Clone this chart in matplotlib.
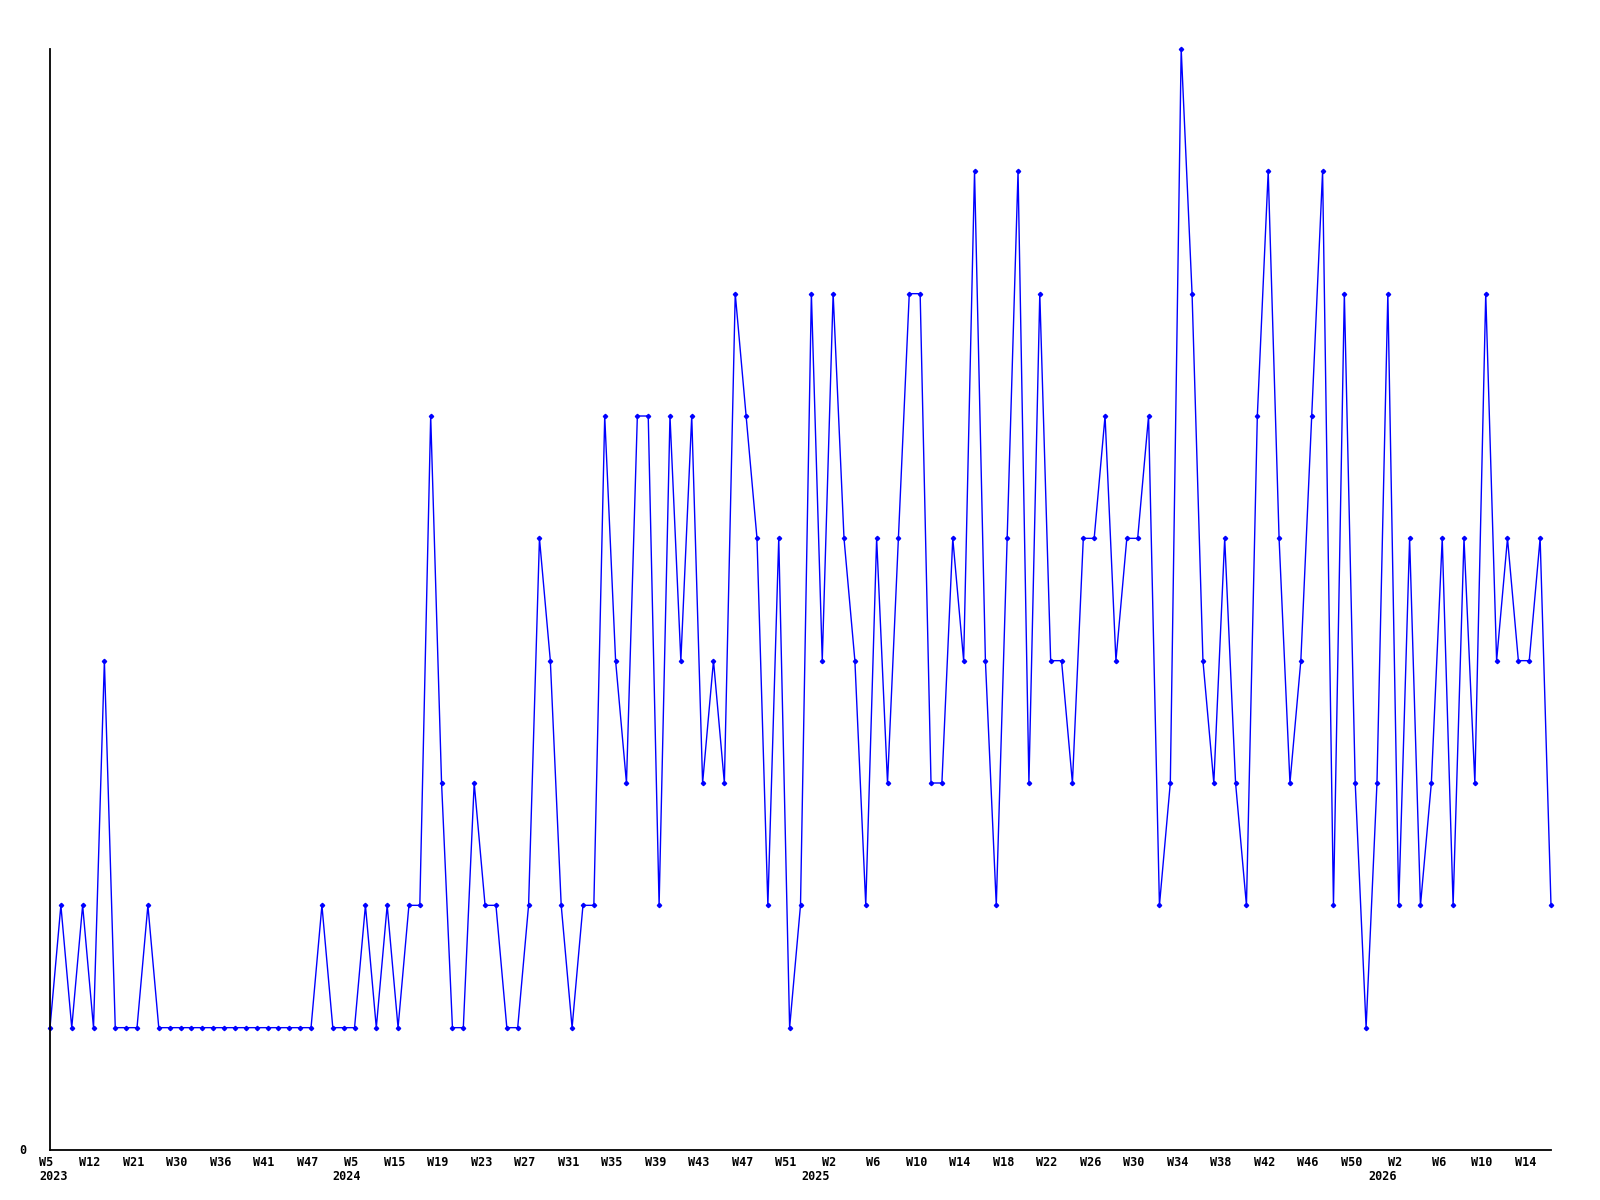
import matplotlib
matplotlib.use("Agg")
import matplotlib.pyplot as plt
import matplotlib.transforms as mtransforms

# weekly values (index = point order)
values = [
    1, 2, 1, 2, 1, 4, 1, 1, 1, 2,
    1, 1, 1, 1, 1, 1, 1, 1, 1, 1,
    1, 1, 1, 1, 1, 2, 1, 1, 1, 2,
    1, 2, 1, 2, 2, 6, 3, 1, 1, 3,
    2, 2, 1, 1, 2, 5, 4, 2, 1, 2,
    2, 6, 4, 3, 6, 6, 2, 6, 4, 6,
    3, 4, 3, 7, 6, 5, 2, 5, 1, 2,
    7, 4, 7, 5, 4, 2, 5, 3, 5, 7,
    7, 3, 3, 5, 4, 8, 4, 2, 5, 8,
    3, 7, 4, 4, 3, 5, 5, 6, 4, 5,
    5, 6, 2, 3, 9, 7, 4, 3, 5, 3,
    2, 6, 8, 5, 3, 4, 6, 8, 2, 7,
    3, 1, 3, 7, 2, 5, 2, 3, 5, 2,
    5, 3, 7, 4, 5, 4, 4, 5, 2,
]

week_labels = ["W5", "W12", "W21", "W30", "W36", "W41", "W47", "W5", "W15",
               "W19", "W23", "W27", "W31", "W35", "W39", "W43", "W47", "W51",
               "W2", "W6", "W10", "W14", "W18", "W22", "W26", "W30", "W34",
               "W38", "W42", "W46", "W50", "W2", "W6", "W10", "W14"]
label_step = 4

year_labels = ["2023", "2024", "2025", "2026"]
year_anchor = [0.3, 27.3, 70.4, 122.5]

x = list(range(len(values)))

fig = plt.figure(figsize=(16, 12), dpi=100)
ax = fig.add_axes([50 / 1600, 50 / 1200, 1501 / 1600, 1101 / 1200])

ax.plot(x, values, color="#0000ff", linewidth=1.0, marker="D",
        markersize=2.2, markerfacecolor="#0000ff", markeredgecolor="#0000ff",
        clip_on=False)

ax.set_xlim(0, len(values) - 1)
ax.set_ylim(0, 9)

for s in ["top", "right"]:
    ax.spines[s].set_visible(False)
for s in ["left", "bottom"]:
    ax.spines[s].set_color("black")
    ax.spines[s].set_linewidth(1.3)

ax.set_xticks([])
ax.set_yticks([])

font = dict(family="DejaVu Sans Mono", weight="bold", size=8.5, color="black")

shift = mtransforms.ScaledTranslation(-3.6 / 100, 0, fig.dpi_scale_trans)
btrans = mtransforms.blended_transform_factory(ax.transData, ax.transAxes)
for i, lab in enumerate(week_labels):
    ax.text(i * label_step, -12 / 1101, lab, transform=btrans + shift,
            ha="center", va="center", **font)

for lab, pos in zip(year_labels, year_anchor):
    ax.text(pos, -27 / 1101, lab, transform=btrans, ha="center", va="center", **font)

ax.text(-27 / 1501, 0, "0", transform=ax.transAxes, ha="center", va="center", **font)

fig.savefig("out.png", dpi=100, facecolor="white")
